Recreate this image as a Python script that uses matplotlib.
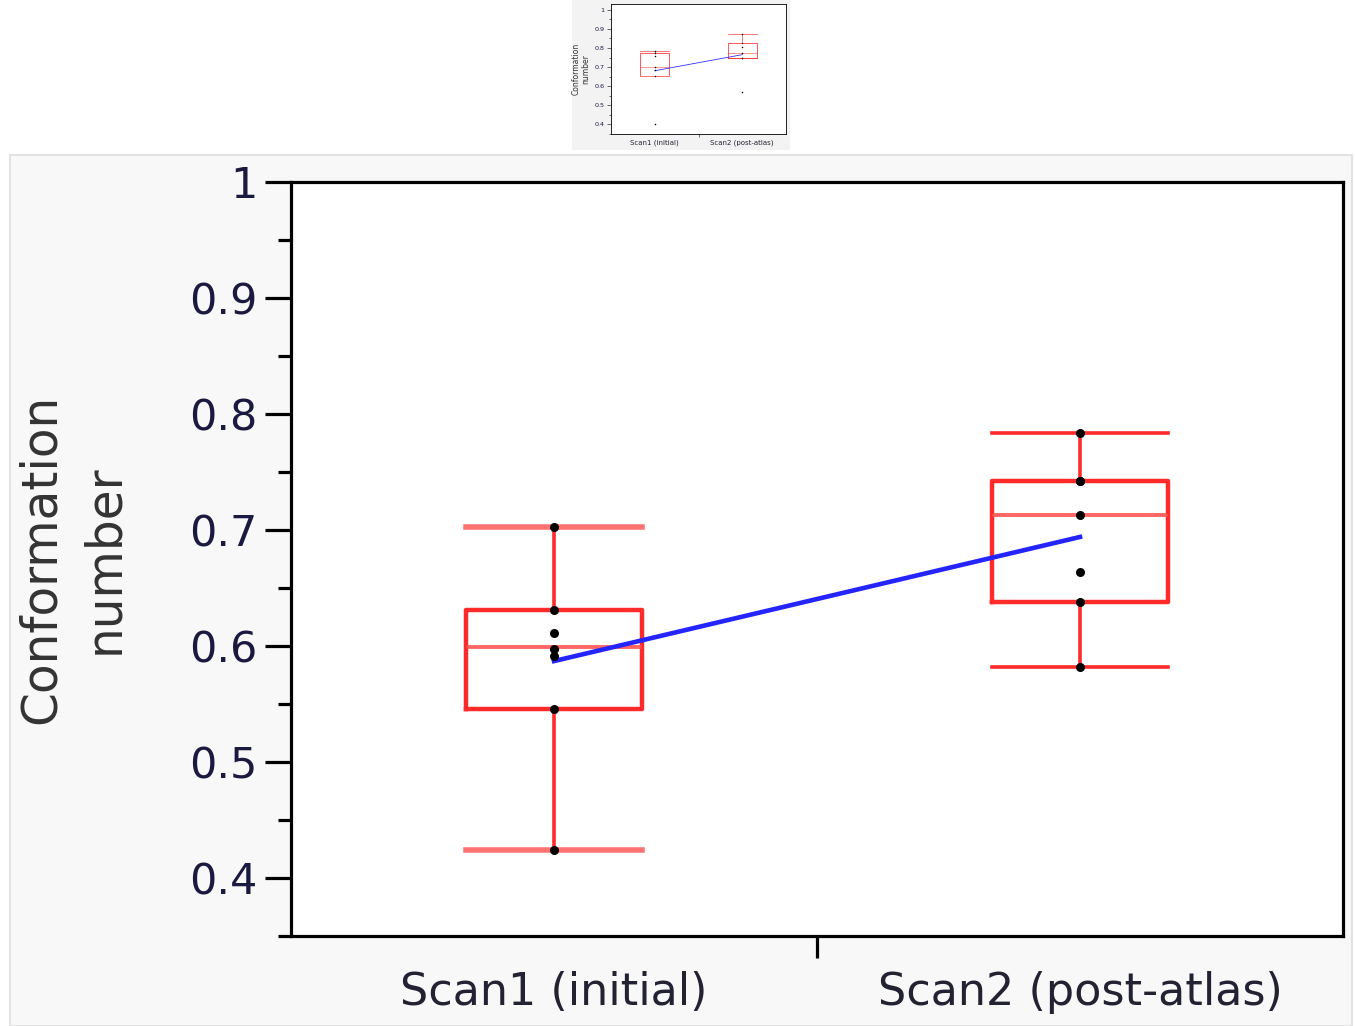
"""Conformation number, Scan1 vs Scan2: JMP-style box plots (thumbnail + enlarged view)."""

import matplotlib
matplotlib.use("Agg")
import matplotlib.pyplot as plt
from matplotlib.patches import Rectangle
from matplotlib.ticker import MultipleLocator, FixedLocator, NullFormatter, FixedFormatter

categories = ["Scan1 (initial)", "Scan2 (post-atlas)"]

# enlarged chart
scan1_points = [0.703, 0.631, 0.611, 0.597, 0.591, 0.546, 0.424]
scan2_points = [0.784, 0.742, 0.742, 0.713, 0.664, 0.638, 0.582]
box_q1 = [0.546, 0.638]
box_median = [0.599, 0.713]
box_q3 = [0.631, 0.742]
whisker_low = [0.424, 0.582]
whisker_high = [0.703, 0.784]
group_means = [0.587, 0.694]

# thumbnail at the top
thumb_scan1_points = [0.786, 0.772, 0.757, 0.698, 0.684, 0.654, 0.404]
thumb_scan2_points = [0.872, 0.825, 0.807, 0.772, 0.746, 0.746, 0.570]
thumb_q1 = [0.654, 0.746]
thumb_median = [0.698, 0.772]
thumb_q3 = [0.772, 0.825]
thumb_whisker_low = [0.654, 0.746]
thumb_whisker_high = [0.786, 0.872]
thumb_means = [0.681, 0.765]

RED = "#ff2a2a"
BLUE = "#2424ff"


def draw_panel(ax, points, q1, med, q3, wlo, whi, means, s, ylim_top):
    stats = [dict(med=m, q1=a, q3=b, whislo=lo, whishi=hi, fliers=[])
             for m, a, b, lo, hi in zip(med, q1, q3, wlo, whi)]
    pos = [1, 2]
    art = ax.bxp(stats, positions=pos, widths=0.335, capwidths=0.335,
                 showfliers=False, manage_ticks=False,
                 boxprops=dict(color=RED, lw=3.2 * s),
                 whiskerprops=dict(color=RED, lw=2.6 * s),
                 capprops=dict(color=RED, lw=2.6 * s),
                 medianprops=dict(color="#ff4a4a", lw=2.8 * s, alpha=0.85))
    # first group's caps look lighter and thicker in the original
    for cap in art["caps"][:2]:
        cap.set_color("#ff7272")
        cap.set_linewidth(4.0 * s)
    for x, pts in zip(pos, points):
        ax.plot([x] * len(pts), pts, "o", color="black", ms=6.5 * s, mew=0, zorder=5)
    ax.plot(pos, means, color=BLUE, lw=3.3 * s, zorder=4)

    ax.set_xlim(0.5, 2.5)
    ax.set_ylim(0.35, ylim_top)
    ax.yaxis.set_major_locator(MultipleLocator(0.1))
    ax.yaxis.set_minor_locator(MultipleLocator(0.05))
    ax.yaxis.set_major_formatter(plt.FuncFormatter(lambda v, p: f"{v:g}"))
    ax.xaxis.set_major_locator(FixedLocator([1.5]))
    ax.xaxis.set_major_formatter(NullFormatter())
    ax.xaxis.set_minor_locator(FixedLocator(pos))
    ax.xaxis.set_minor_formatter(FixedFormatter(categories))
    for sp in ax.spines.values():
        sp.set_linewidth(2.3 * s)
    ax.tick_params(axis="y", which="major", length=19 * s, width=2.3 * s,
                   labelsize=31 * s, pad=5 * s, colors="black", labelcolor="#1a1a40")
    ax.tick_params(axis="y", which="minor", length=9.5 * s, width=2.3 * s)
    ax.tick_params(axis="x", which="major", length=16 * s, width=2.3 * s)
    ax.tick_params(axis="x", which="minor", length=0, labelsize=32 * s,
                   pad=25 * s, labelcolor="#222233")
    ax.set_facecolor("white")


fig = plt.figure(figsize=(13.55, 10.26), dpi=100)
fig.patch.set_facecolor("white")

# background panels of the screenshot
fig.patches.append(Rectangle((10 / 1355, 0), 1342 / 1355, 871 / 1026,
                             transform=fig.transFigure, fc="#f8f8f8",
                             ec="#e2e2e2", lw=1.5, zorder=-10))
fig.patches.append(Rectangle((572 / 1355, 876 / 1026), 218 / 1355, 150 / 1026,
                             transform=fig.transFigure, fc="#f3f3f3",
                             ec="none", zorder=-10))

ax = fig.add_axes([291 / 1355, 90 / 1026, 1052 / 1355, 754 / 1026])
draw_panel(ax, [scan1_points, scan2_points], box_q1, box_median, box_q3,
           whisker_low, whisker_high, group_means, 1.0, 1.0)
ax.set_ylabel("Conformation\nnumber", fontsize=35, color="#333333", linespacing=1.4)
ax.yaxis.set_label_coords(-0.155, 0.5)

tax = fig.add_axes([611 / 1355, 892 / 1026, 175 / 1355, 130 / 1026])
draw_panel(tax, [thumb_scan1_points, thumb_scan2_points], thumb_q1, thumb_median,
           thumb_q3, thumb_whisker_low, thumb_whisker_high, thumb_means, 0.17, 1.03)
tax.tick_params(axis="x", which="minor", labelsize=5, pad=4)
tax.tick_params(axis="y", which="major", labelsize=4.6, pad=1.5, length=3)
tax.tick_params(axis="y", which="minor", length=1.5)
tax.tick_params(axis="x", which="major", length=2.5)
for sp in tax.spines.values():
    sp.set_linewidth(0.6)
tax.set_ylabel("Conformation\nnumber", fontsize=5.5, color="#333333", linespacing=1.1)
tax.yaxis.set_label_coords(-0.12, 0.5)

fig.savefig("out.png", dpi=100)
